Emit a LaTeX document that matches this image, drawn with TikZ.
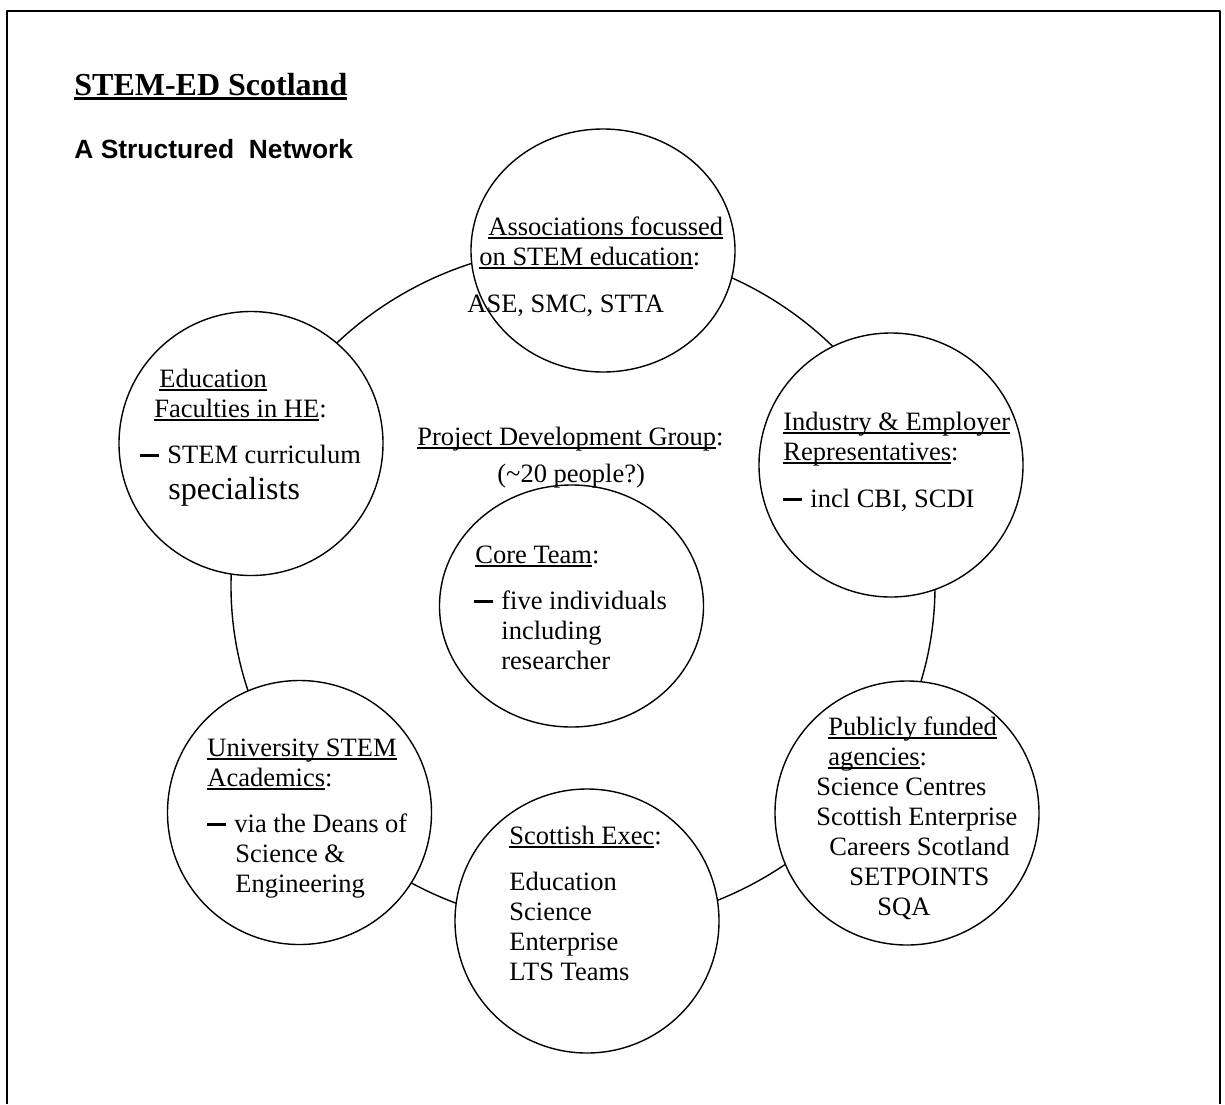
\documentclass[tikz,border=0pt]{standalone}
\usepackage{fontspec}
\setmainfont{Liberation Serif}
\setsansfont{Liberation Sans}
\usepackage{tikz}
\usetikzlibrary{shapes.geometric}

\newcommand{\undl}[2][0.9pt]{\sbox0{#2}\rlap{\rule[\dimexpr-1.1pt-#1\relax]{\wd0}{#1}}\usebox0}
\newcommand{\dashbul}{\rule[3.25pt]{9.5pt}{1.5pt}\hspace{4pt}}
\newcommand{\txtlines}[1]{\begin{tabular}[t]{@{}l@{}}#1\end{tabular}}

\begin{document}
\begin{tikzpicture}[x=0.5pt, y=-0.5pt, line join=round,
  frame/.style={line width=1pt},
  outerring/.style={draw, line width=0.7pt, ellipse, inner sep=0pt, minimum width=352pt, minimum height=340pt},
  bubble/.style={draw, fill=white, line width=0.7pt, ellipse, inner sep=0pt, minimum width=132pt, minimum height=132pt},
  lbl/.style={anchor=base west, inner sep=0pt, font=\fontsize{13.25}{15}\selectfont}]
\useasboundingbox (0,0) rectangle (1225,1104);
\draw[frame] (7,1104) -- (7,11) -- (1220,11) -- (1220,1104);

% headings
\node[anchor=base west, inner sep=0pt, font=\bfseries\fontsize{16}{19}\selectfont] (title) at (74,95) {\undl[1.5pt]{STEM-ED Scotland}};
\node[anchor=base west, inner sep=0pt, font=\sffamily\bfseries\fontsize{13.2}{16}\selectfont] (subtitle) at (74,158) {A Structured\ \ Network};

% network ring and its members
\node[outerring] (ring) at (583,586) {};
\node[bubble, minimum height=121.5pt] (assoc) at (603,250.5) {};
\node[bubble] (indus) at (891,465) {};
\node[bubble] (publ) at (907,813) {};
\node[bubble] (scot) at (587,921) {};
\node[bubble] (univ) at (299.5,812.5) {};
\node[bubble] (educ) at (251,443.5) {};
\node[bubble, fill=none, minimum height=121pt] (core) at (571.5,606) {};

% texts
\node[lbl] (assoc-txt) at (467,235) {\txtlines{\hspace*{10.5pt}\undl{Associations focussed}\\ \hspace*{6pt}\undl{on STEM education}:\\[8.5pt] ASE, SMC, STTA}};
\node[lbl] (indus-txt) at (783,430) {\txtlines{\undl{Industry \& Employer}\\ \undl{Representatives}:\\[8.5pt] \dashbul incl CBI, SCDI}};
\node[lbl] (pdg-txt) at (417,445) {\txtlines{\undl{Project Development Group}:\\[3.5pt] \hspace*{40pt}(\textasciitilde 20 people?)}};
\node[lbl] (core-txt) at (474,563) {\txtlines{\hspace*{0.5pt}\undl{Core Team}:\\[8pt] \dashbul five individuals\\ \hspace*{13.5pt}including\\ \hspace*{13.5pt}researcher}};
\node[lbl] (educ-txt) at (140,387) {\txtlines{\hspace*{9.5pt}\undl{Education}\\ \hspace*{7pt}\undl{Faculties in HE}:\\[8pt] \dashbul STEM curriculum\\[2.6pt] \hspace*{14pt}{\fontsize{16}{19}\selectfont specialists}}};
\node[lbl] (univ-txt) at (207,756) {\txtlines{\undl{University STEM}\\ \undl{Academics}:\\[8pt] \dashbul via the Deans of\\ \hspace*{14pt}Science \&\\ \hspace*{14pt}Engineering}};
\node[lbl] (scot-txt) at (509,844) {\txtlines{\undl{Scottish Exec}:\\[8pt] Education\\ Science\\ Enterprise\\ LTS Teams}};
\node[lbl] (publ-txt) at (816,735) {\txtlines{\hspace*{6pt}\undl{Publicly funded}\\ \hspace*{6pt}\undl{agencies}:\\ Science Centres\\ Scottish Enterprise\\ \hspace*{6.5pt}Careers Scotland\\ \hspace*{16.5pt}SETPOINTS\\ \hspace*{30.5pt}SQA}};
\end{tikzpicture}
\end{document}
